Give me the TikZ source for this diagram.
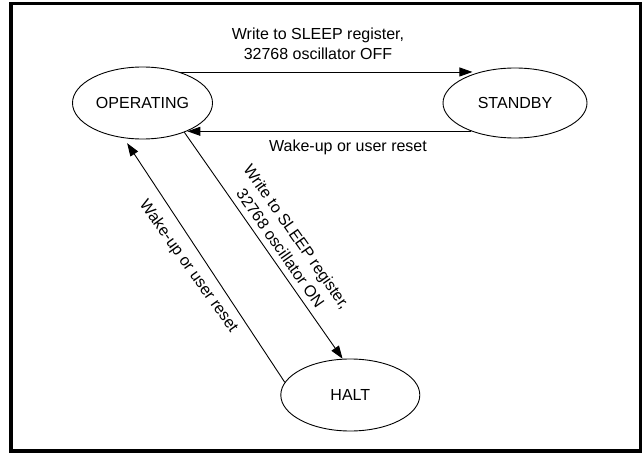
\documentclass[tikz,border=0pt]{standalone}
\usepackage{fontspec}
\setmainfont{Liberation Sans}
\usetikzlibrary{arrows.meta,shapes.geometric}
\begin{document}
\begin{tikzpicture}[x=1pt,y=-1pt,
  state/.style={draw,ellipse,line width=0.9pt,minimum width=140pt,minimum height=72pt,inner sep=0pt,font=\fontsize{16}{19}\selectfont},
  arr/.style={line width=0.9pt,-{Triangle[length=13pt,width=9pt]}},
  lbl/.style={font=\fontsize{16}{20}\selectfont,align=center,inner sep=0pt}]
\useasboundingbox (0,0) rectangle (644,454);
\draw[line width=3.3pt] (11,3.2) rectangle (640.3,451);
\node[state] (op) at (142.5,103) {OPERATING};
\node[state,minimum width=144pt,minimum height=70pt] (sb) at (515,103) {STANDBY};
\node[state,minimum width=139pt] (ht) at (350.3,395) {HALT};
% top arrow
\draw[arr] (op.40) -- (op.40 -| sb.146);
\node[lbl] (t1) at (318,44) {Write to SLEEP register,\\32768 oscillator OFF};
% bottom arrow
\draw[arr] (sb.213) -- (sb.213 -| op.-32);
\node[lbl] (t2) at (348,147) {Wake-up or user reset};
% diagonal to HALT
\draw[arr] (op.-35) -- (ht.102);
\node[lbl,rotate=-55] (t3) at (288.8,242.5) {Write to SLEEP register,\\32768 oscillator ON};
% HALT back to OPERATING
\draw[arr,shorten >=6pt] (ht.169) -- (op.242);
\node[lbl,rotate=-54.5] (t4) at (188.3,266.7) {Wake-up or user reset};
\end{tikzpicture}
\end{document}
